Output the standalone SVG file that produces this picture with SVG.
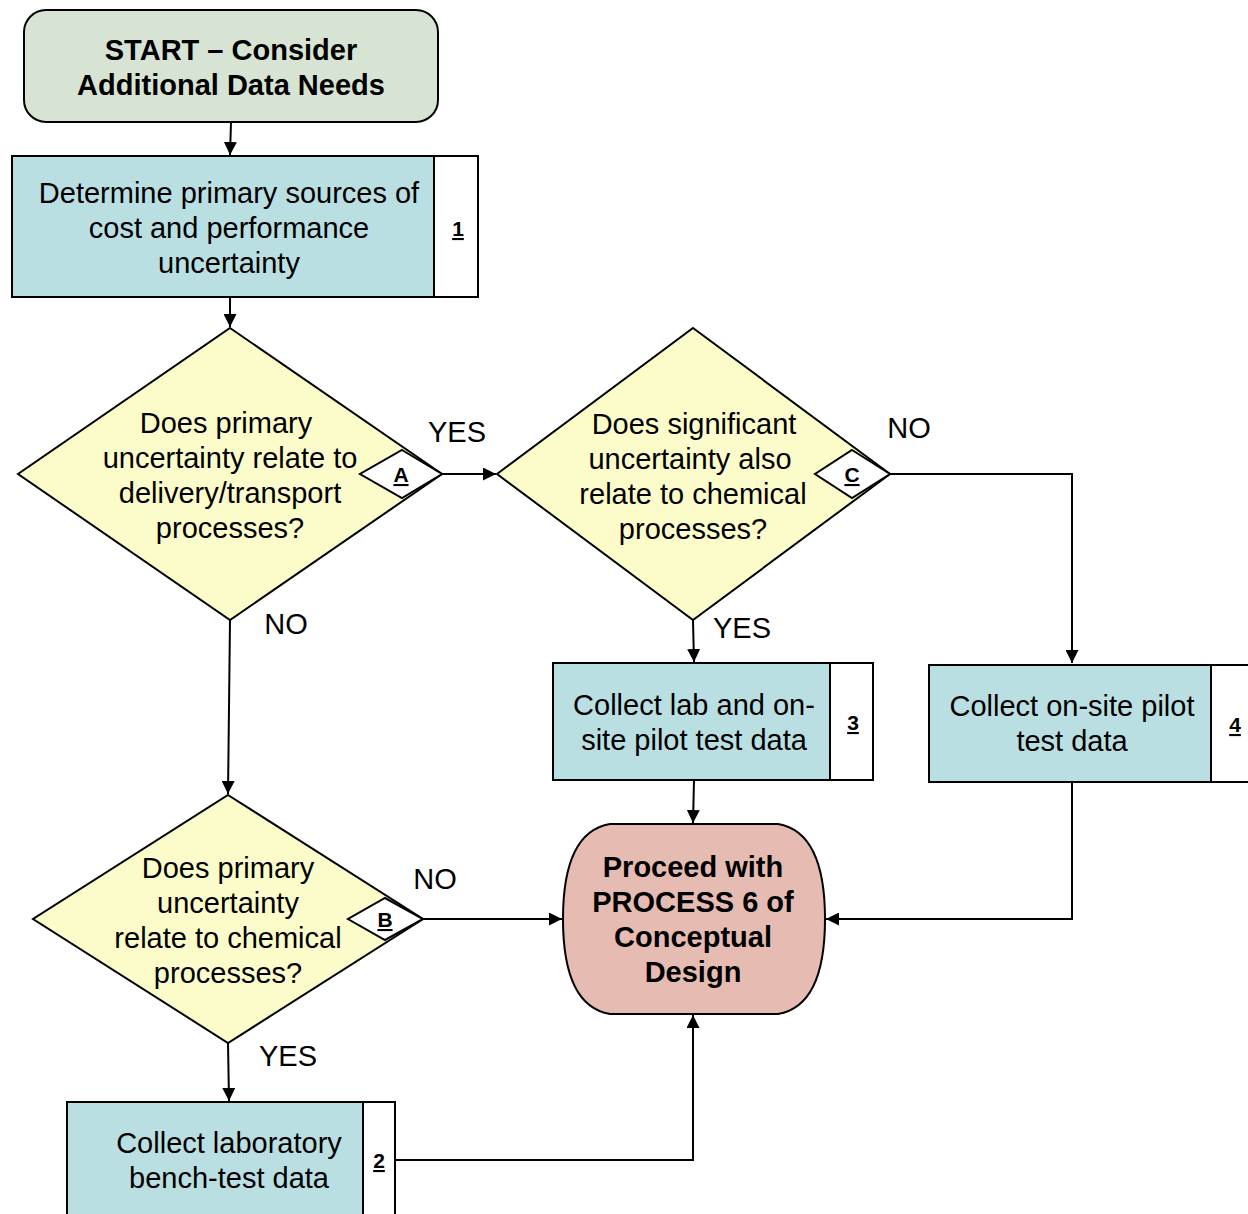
<svg xmlns="http://www.w3.org/2000/svg" width="1248" height="1214" viewBox="0 0 1248 1214">
<defs>
<marker id="ah" viewBox="0 0 10 10" refX="10" refY="5" markerWidth="13" markerHeight="13" markerUnits="userSpaceOnUse" orient="auto"><path d="M0,0 L10,5 L0,10 Z" fill="#000"/></marker>
<style>
.t{font-family:"Liberation Sans",Arial,sans-serif;font-size:29px;fill:#000;text-anchor:middle}
.b{font-weight:bold;font-size:29px}
.n{font-family:"Liberation Sans",Arial,sans-serif;font-size:21px;font-weight:bold;text-decoration:underline;text-anchor:middle}
.proc{fill:#b9dfe2;stroke:#000;stroke-width:2}
.num{fill:#fff;stroke:#000;stroke-width:2}
.dec{fill:#fcfcca;stroke:#000;stroke-width:2}
.sd{fill:#fff;stroke:#000;stroke-width:2}
.c{fill:none;stroke:#000;stroke-width:2}
</style>
</defs>
<g id="connectors">
<path class="c" d="M231,122 L230,155" marker-end="url(#ah)"/>
<path class="c" d="M230,297 L230,327" marker-end="url(#ah)"/>
<path class="c" d="M442,474 L496,474" marker-end="url(#ah)"/>
<path class="c" d="M890,474 H1072 V663" marker-end="url(#ah)"/>
<path class="c" d="M693,620 L694,662" marker-end="url(#ah)"/>
<path class="c" d="M694,780 L693,823" marker-end="url(#ah)"/>
<path class="c" d="M1072,782 V919 H826" marker-end="url(#ah)"/>
<path class="c" d="M230,620 L228,794" marker-end="url(#ah)"/>
<path class="c" d="M423,919 H562" marker-end="url(#ah)"/>
<path class="c" d="M228,1043 L229,1101" marker-end="url(#ah)"/>
<path class="c" d="M395,1160 H693 V1015" marker-end="url(#ah)"/>
<text class="t" x="457" y="442">YES</text>
<text class="t" x="909" y="438">NO</text>
<text class="t" x="742" y="638">YES</text>
<text class="t" x="286" y="634">NO</text>
<text class="t" x="435" y="889">NO</text>
<text class="t" x="288" y="1066">YES</text>
</g>
<g id="start">
<rect x="24" y="10" width="414" height="112" rx="22" fill="#d7e4d4" stroke="#000" stroke-width="2"/>
<text class="t b" x="231" y="60">START – Consider</text>
<text class="t b" x="231" y="95">Additional Data Needs</text>
</g>
<g id="step1">
<rect class="proc" x="12" y="156" width="422" height="141"/>
<rect class="num" x="434" y="156" width="44" height="141"/>
<text class="t" x="229" y="203">Determine primary sources of</text>
<text class="t" x="229" y="238">cost and performance</text>
<text class="t" x="229" y="273">uncertainty</text>
<text class="n" x="458" y="236">1</text>
</g>
<g id="decisionA">
<polygon class="dec" points="230,328 442,474 230,620 18,474"/>
<polygon class="sd" points="402,450 442,474 402,498 360,474"/>
<text class="t" x="226" y="433">Does primary</text>
<text class="t" x="230" y="468">uncertainty relate to</text>
<text class="t" x="230" y="503">delivery/transport</text>
<text class="t" x="230" y="538">processes?</text>
<text class="n" x="401" y="482">A</text>
</g>
<g id="decisionC">
<polygon class="dec" points="693,328 890,474 693,620 497,474"/>
<polygon class="sd" points="852,450 890,474 852,498 815,474"/>
<text class="t" x="694" y="434">Does significant</text>
<text class="t" x="690" y="469">uncertainty also</text>
<text class="t" x="693" y="504">relate to chemical</text>
<text class="t" x="693" y="539">processes?</text>
<text class="n" x="852" y="482">C</text>
</g>
<g id="step3">
<rect class="proc" x="553" y="663" width="277" height="117"/>
<rect class="num" x="830" y="663" width="43" height="117"/>
<text class="t" x="694" y="715">Collect lab and on-</text>
<text class="t" x="694" y="750">site pilot test data</text>
<text class="n" x="853" y="730">3</text>
</g>
<g id="step4">
<rect class="proc" x="929" y="665" width="282" height="117"/>
<rect class="num" x="1211" y="665" width="45" height="117"/>
<text class="t" x="1072" y="716">Collect on-site pilot</text>
<text class="t" x="1072" y="751">test data</text>
<text class="n" x="1235" y="732">4</text>
</g>
<g id="end">
<path d="M610,824 H778 Q825,832 825,919 Q825,1006 778,1014 H610 Q563,1006 563,919 Q563,832 610,824 Z" fill="#e6bcb2" stroke="#000" stroke-width="2"/>
<text class="t b" x="693" y="877">Proceed with</text>
<text class="t b" x="693" y="912">PROCESS 6 of</text>
<text class="t b" x="693" y="947">Conceptual</text>
<text class="t b" x="693" y="982">Design</text>
</g>
<g id="decisionB">
<polygon class="dec" points="228,795 423,919 228,1043 33,919"/>
<polygon class="sd" points="385,898 423,919 385,940 348,919"/>
<text class="t" x="228" y="878">Does primary</text>
<text class="t" x="228" y="913">uncertainty</text>
<text class="t" x="228" y="948">relate to chemical</text>
<text class="t" x="228" y="983">processes?</text>
<text class="n" x="385" y="927">B</text>
</g>
<g id="step2">
<rect class="proc" x="67" y="1102" width="296" height="120"/>
<rect class="num" x="363" y="1102" width="32" height="120"/>
<text class="t" x="229" y="1153">Collect laboratory</text>
<text class="t" x="229" y="1188">bench-test data</text>
<text class="n" x="379" y="1168">2</text>
</g>
</svg>
